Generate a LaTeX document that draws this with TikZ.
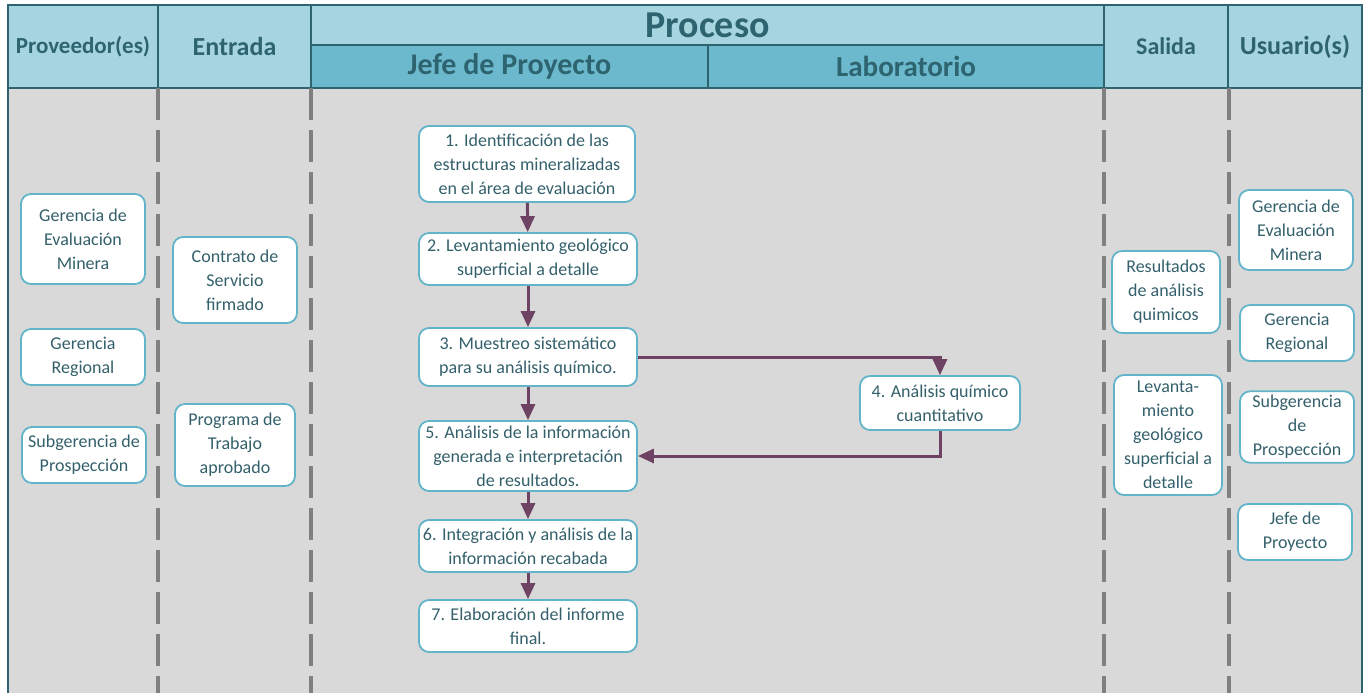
\documentclass[tikz,border=0pt]{standalone}
\usepackage{fontspec}
\setmainfont{Carlito}
\usetikzlibrary{arrows.meta}
\definecolor{cabclaro}{HTML}{A6D5E0}
\definecolor{cabobscuro}{HTML}{6CB9CD}
\definecolor{borde}{HTML}{2D6470}
\definecolor{cuerpo}{HTML}{D9D9D9}
\definecolor{cajaborde}{HTML}{62B5C9}
\definecolor{textocaja}{HTML}{33606B}
\definecolor{flechacol}{HTML}{6E4262}
\definecolor{guion}{HTML}{808080}
\tikzset{
  celda/.style={draw=borde,line width=1pt,fill=cabclaro,text=borde,font=\bfseries\fontsize{12}{14}\selectfont,inner sep=0pt},
  caja/.style={draw=cajaborde,line width=0.9pt,fill=white,rounded corners=5pt,align=center,text=textocaja,font=\fontsize{9}{12}\selectfont,inner sep=2pt},
  flecha/.style={draw=flechacol,line width=1.5pt,-{Triangle[width=7pt,length=8pt]}},
  carril/.style={draw=guion,line width=2pt,dash pattern=on 16pt off 5pt}
}
\begin{document}
\begin{tikzpicture}[x=0.5pt,y=-0.5pt]
\useasboundingbox (0,0) rectangle (1365,693);
% fondo
\fill[cuerpo] (8,88) rectangle (1362,693);
\draw[borde,line width=1pt] (8,88) -- (8,693) (1362,88) -- (1362,693);
% cabecera
\node[celda,minimum width=75pt,minimum height=41.5pt,font=\bfseries\fontsize{11.5}{14}\selectfont] (prov) at (83,46.5) {Proveedor(es)};
\node[celda,minimum width=76.5pt,minimum height=41.5pt,font=\bfseries\fontsize{13}{15}\selectfont] (entr) at (234.5,46.5) {Entrada};
\node[celda,minimum width=396.5pt,minimum height=20pt,font=\bfseries\fontsize{19}{20}\selectfont] (proc) at (707.5,25) {Proceso};
\node[celda,fill=cabobscuro,minimum width=198.5pt,minimum height=21.5pt,font=\bfseries\fontsize{15}{16}\selectfont] (jefe) at (509.5,66.5) {Jefe de Proyecto};
\node[celda,fill=cabobscuro,minimum width=198pt,minimum height=21.5pt,font=\bfseries\fontsize{14.5}{16}\selectfont] (lab) at (906,66.5) {Laboratorio};
\node[celda,minimum width=62pt,minimum height=41.5pt] (sal) at (1166,46.5) {Salida};
\node[celda,minimum width=67pt,minimum height=41.5pt,font=\bfseries\fontsize{13}{15}\selectfont] (usu) at (1295,46.5) {Usuario(s)};
% carriles
\foreach \x in {158,311,1104,1229}
  \draw[carril] (\x,88) -- (\x,693);
% proveedores
\node[caja,minimum width=62pt,minimum height=45pt] (prov1) at (83,239) {Gerencia de\\Evaluación\\Minera};
\node[caja,minimum width=62pt,minimum height=28pt] (prov2) at (83,357) {Gerencia\\Regional};
\node[caja,minimum width=62pt,minimum height=28pt] (prov3) at (84,455) {Subgerencia de\\Prospección};
% entradas
\node[caja,minimum width=62pt,minimum height=43pt] (ent1) at (235,280) {Contrato de\\Servicio\\firmado};
\node[caja,minimum width=60pt,minimum height=41pt] (ent2) at (235,445) {Programa de\\Trabajo\\aprobado};
% proceso
\node[caja,minimum width=108pt,minimum height=38pt] (p1) at (527,164) {1. Identificación de las\\estructuras mineralizadas\\en el área de evaluación};
\node[caja,minimum width=109pt,minimum height=26pt] (p2) at (528,259) {2. Levantamiento geológico\\superficial a detalle};
\node[caja,minimum width=109pt,minimum height=29pt] (p3) at (528,357) {3. Muestreo sistemático\\para su análisis químico.};
\node[caja,minimum width=80pt,minimum height=27pt] (p4) at (940,403) {4. Análisis químico\\cuantitativo};
\node[caja,minimum width=109pt,minimum height=35pt] (p5) at (528,456) {5. Análisis de la información\\generada e interpretación\\de resultados.};
\node[caja,minimum width=109pt,minimum height=26pt] (p6) at (528,546) {6. Integración y análisis de la\\información recabada};
\node[caja,minimum width=109pt,minimum height=26pt] (p7) at (528,626) {7. Elaboración del informe\\final.};
\draw[flecha] (p1) -- (p2);
\draw[flecha] (p2) -- (p3);
\draw[flecha] (p3) -- (p5);
\draw[flecha] (p5) -- (p6);
\draw[flecha] (p6) -- (p7);
\draw[flecha] (p3.east) -| (p4.north);
\draw[flecha] (p4.south) |- (p5.east);
% salidas
\node[caja,minimum width=54pt,minimum height=41pt] (sal1) at (1166,292) {Resultados\\de análisis\\quimicos};
\node[caja,minimum width=54pt,minimum height=60pt] (sal2) at (1168,435) {Levanta-\\miento\\geológico\\superficial a\\detalle};
% usuarios
\node[caja,minimum width=57pt,minimum height=40pt] (usu1) at (1296,230) {Gerencia de\\Evaluación\\Minera};
\node[caja,minimum width=57pt,minimum height=28pt] (usu2) at (1297,333) {Gerencia\\Regional};
\node[caja,minimum width=57pt,minimum height=34pt] (usu3) at (1297,427) {Subgerencia\\de\\Prospección};
\node[caja,minimum width=57pt,minimum height=28pt] (usu4) at (1295,532) {Jefe de\\Proyecto};
\end{tikzpicture}
\end{document}
